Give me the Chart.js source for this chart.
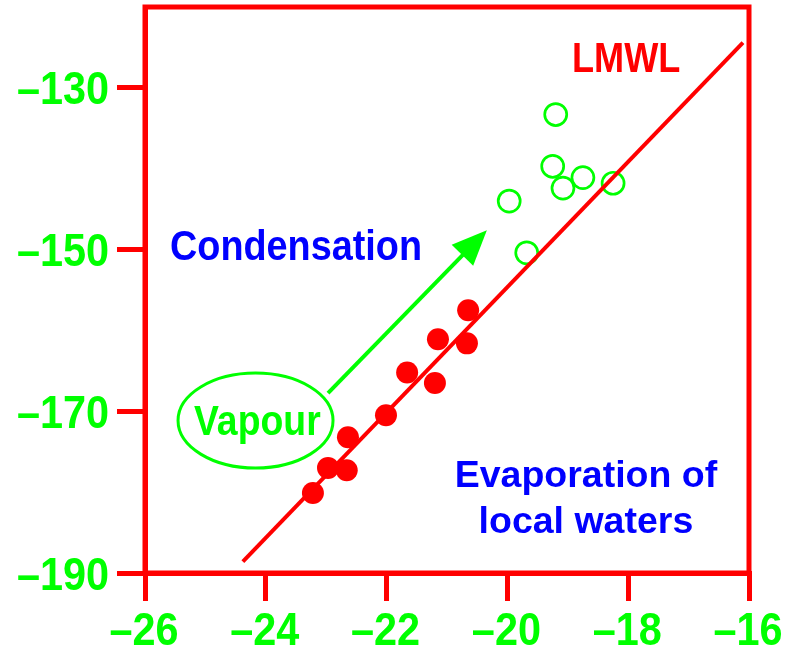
<!DOCTYPE html>
<html><head><meta charset="utf-8">
<script src="https://cdn.jsdelivr.net/npm/chart.js@4"></script>
<style>html,body{margin:0;padding:0;background:#fff;}#wrap{width:798px;height:650px;}</style>
</head><body><div id="wrap"><canvas id="c" width="798" height="650"></canvas></div>
<script>
// ---- data ----
const xTickValues = [-26, -24, -22, -20, -18, -16];
const xTickLabels = ['–26', '–24', '–22', '–20', '–18', '–16'];
const yTickValues = [-190, -170, -150, -130];
const yTickLabels = ['–190', '–170', '–150', '–130'];

// local waters (filled red)
const localD18O = [-20.65, -20.67, -21.15, -21.66, -21.20, -22.01, -22.64, -22.97, -22.66, -23.22];
const localDD   = [-157.5, -161.6, -161.1, -165.2, -166.5, -170.5, -173.2, -177.0, -177.3, -180.1];
// condensation (open green)
const condD18O = [-19.20, -19.25, -19.08, -18.75, -18.25, -19.97, -19.68];
const condDD   = [-133.3, -139.7, -142.4, -141.1, -141.8, -144.0, -150.4];
// LMWL end points
const lmwlD18O = [-24.38, -16.10];
const lmwlDD   = [-188.6, -124.4];

// annotations (data coordinates)
const vapourCenter = [-24.17, -171.15];
const vapourRadii = [1.283, 5.87];
const arrowFrom = [-22.97, -167.75];
const arrowTo = [-20.34, -147.6];
const labelLMWL = [-18.93, -128.07];
const labelCond = [-23.5, -151.31];
const labelEvap1 = [-18.70, -179.37];
const labelEvap2 = [-18.70, -185.06];
const labelVapour = [-24.14, -172.94];

const RED = '#ff0000', GREEN = '#00ff00', BLUE = '#0000ff';
const FAMILY = '"Liberation Sans", Arial, sans-serif';

const zip = (a, b) => a.map((v, i) => ({x: v, y: b[i]}));

function drawText(ctx, txt, px, py, size, weight, sx, color, align) {
  ctx.save();
  ctx.translate(px, py);
  ctx.scale(sx, 1);
  ctx.font = weight + ' ' + size + 'px ' + FAMILY;
  ctx.fillStyle = color;
  ctx.textAlign = align;
  ctx.textBaseline = 'alphabetic';
  ctx.fillText(txt, 0, 0);
  ctx.restore();
}

const framePlugin = {
  id: 'frame',
  beforeDatasetsDraw(chart) {
    const {ctx, chartArea: a} = chart;
    ctx.save();
    ctx.strokeStyle = RED;
    ctx.lineWidth = 5;
    ctx.strokeRect(a.left, a.top, a.right - a.left, a.bottom - a.top);
    ctx.restore();
  }
};

// tick labels drawn through the scales, with a narrow (condensed) bold face
const tickLabelPlugin = {
  id: 'tickLabels',
  afterDraw(chart) {
    const ctx = chart.ctx, xs = chart.scales.x, ys = chart.scales.y;
    xs.ticks.forEach((t, i) => {
      drawText(ctx, xTickLabels[i], xs.getPixelForValue(t.value) - 1, xs.top + 72, 46, 'bold', 0.9, GREEN, 'center');
    });
    ys.ticks.forEach((t, i) => {
      drawText(ctx, yTickLabels[i], ys.right - 36, ys.getPixelForValue(t.value) + 16.5, 46, 'bold', 0.9, GREEN, 'right');
    });
  }
};

const annotPlugin = {
  id: 'annot',
  afterDatasetsDraw(chart) {
    const ctx = chart.ctx, xs = chart.scales.x, ys = chart.scales.y;
    const X = v => xs.getPixelForValue(v), Y = v => ys.getPixelForValue(v);
    ctx.save();
    const cx = X(vapourCenter[0]), cy = Y(vapourCenter[1]);
    const rx = Math.abs(X(vapourCenter[0] + vapourRadii[0]) - cx);
    const ry = Math.abs(Y(vapourCenter[1] + vapourRadii[1]) - cy);
    ctx.strokeStyle = GREEN; ctx.lineWidth = 3;
    ctx.beginPath(); ctx.ellipse(cx, cy, rx, ry, 0, 0, Math.PI * 2); ctx.stroke();
    const x1 = X(arrowFrom[0]), y1 = Y(arrowFrom[1]), x2 = X(arrowTo[0]), y2 = Y(arrowTo[1]);
    const ang = Math.atan2(y2 - y1, x2 - x1);
    const hl = 35, hw = 15;
    const bx = x2 - hl * Math.cos(ang), by = y2 - hl * Math.sin(ang);
    ctx.lineWidth = 4; ctx.lineCap = 'butt';
    ctx.beginPath(); ctx.moveTo(x1, y1); ctx.lineTo(bx + 2 * Math.cos(ang), by + 2 * Math.sin(ang)); ctx.stroke();
    ctx.fillStyle = GREEN;
    ctx.beginPath();
    ctx.moveTo(x2, y2);
    ctx.lineTo(bx + hw * Math.sin(ang), by - hw * Math.cos(ang));
    ctx.lineTo(bx - hw * Math.sin(ang), by + hw * Math.cos(ang));
    ctx.closePath(); ctx.fill();
    drawText(ctx, 'LMWL', X(labelLMWL[0]), Y(labelLMWL[1]), 42, 'bold', 0.86, RED, 'left');
    drawText(ctx, 'Condensation', X(labelCond[0]), Y(labelCond[1]), 42, 'bold', 0.9, BLUE, 'center');
    drawText(ctx, 'Evaporation of', X(labelEvap1[0]), Y(labelEvap1[1]), 37.5, 'bold', 1.0, BLUE, 'center');
    drawText(ctx, 'local waters', X(labelEvap2[0]), Y(labelEvap2[1]), 37.5, 'bold', 1.0, BLUE, 'center');
    drawText(ctx, 'Vapour', X(labelVapour[0]), Y(labelVapour[1]), 42, 'bold', 0.89, GREEN, 'center');
    ctx.restore();
  }
};

const gridOpts = {display: true, drawOnChartArea: false, drawTicks: true, tickLength: 28, tickWidth: 5, lineWidth: 5, color: RED, tickColor: RED};

new Chart(document.getElementById('c'), {
  type: 'scatter',
  data: {
    datasets: [
      {label: 'Condensation', data: zip(condD18O, condDD), pointRadius: 11, pointHoverRadius: 11, borderWidth: 2.7, borderColor: GREEN, backgroundColor: 'rgba(0,0,0,0)', order: 3},
      {label: 'LMWL', type: 'line', data: zip(lmwlD18O, lmwlDD), borderColor: RED, borderWidth: 4, pointRadius: 0, fill: false, order: 2, borderCapStyle: 'butt'},
      {label: 'Local waters', data: zip(localD18O, localDD), pointRadius: 11, pointHoverRadius: 11, borderWidth: 0, backgroundColor: RED, borderColor: RED, order: 1}
    ]
  },
  options: {
    responsive: false, animation: false, devicePixelRatio: 1,
    layout: {autoPadding: false, padding: {top: 7, right: 49, left: 0, bottom: 0}},
    plugins: {legend: {display: false}, tooltip: {enabled: false}},
    scales: {
      x: {
        type: 'linear', min: -26, max: -16,
        afterBuildTicks: s => { s.ticks = xTickValues.map(v => ({value: v})); },
        afterFit: s => { s.height = 77; s.paddingLeft = 0; s.paddingRight = 0; },
        ticks: {display: false, autoSkip: false, maxRotation: 0},
        grid: gridOpts,
        border: {display: true, color: RED, width: 5}
      },
      y: {
        type: 'linear', min: -190, max: -120,
        afterBuildTicks: s => { s.ticks = yTickValues.map(v => ({value: v})); },
        afterFit: s => { s.width = 145; s.paddingTop = 0; s.paddingBottom = 0; },
        ticks: {display: false, autoSkip: false},
        grid: gridOpts,
        border: {display: true, color: RED, width: 5}
      }
    }
  },
  plugins: [framePlugin, annotPlugin, tickLabelPlugin]
});
</script></body></html>
